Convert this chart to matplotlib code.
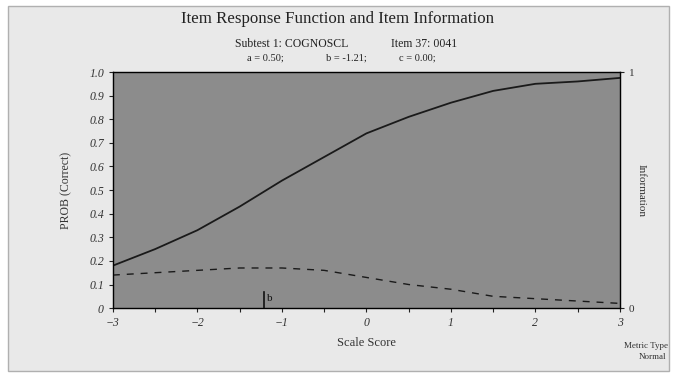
import matplotlib
matplotlib.use("Agg")
import matplotlib.pyplot as plt
from matplotlib.patches import Rectangle

theta = [-3.0, -2.5, -2.0, -1.5, -1.0, -0.5, 0.0, 0.5, 1.0, 1.5, 2.0, 2.5, 3.0]
prob_correct = [0.18, 0.25, 0.33, 0.43, 0.54, 0.64, 0.74, 0.81, 0.87, 0.92, 0.95, 0.96, 0.975]
information = [0.14, 0.15, 0.16, 0.17, 0.17, 0.16, 0.13, 0.10, 0.08, 0.05, 0.04, 0.03, 0.02]
b_param = -1.21
x_ticks = [-3, -2, -1, 0, 1, 2, 3]
y_ticks = [0, 0.1, 0.2, 0.3, 0.4, 0.5, 0.6, 0.7, 0.8, 0.9, 1.0]
y_ticklabels = ["0", "0.1", "0.2", "0.3", "0.4", "0.5", "0.6", "0.7", "0.8", "0.9", "1.0"]

SERIF = ["Liberation Serif", "DejaVu Serif"]

fig = plt.figure(figsize=(6.76, 3.79), dpi=100)
fig.patch.set_facecolor("white")
fig.patches.append(Rectangle((0.012, 0.02), 0.978, 0.965, transform=fig.transFigure,
                             facecolor="#e9e9e9", edgecolor="#b0b0b0", lw=1.0, zorder=-10))

ax = fig.add_axes([0.167, 0.187, 0.750, 0.623])
ax.set_facecolor("#8c8c8c")
ax.plot(theta, prob_correct, color="#1a1a1a", lw=1.3)
ax.set_xlim(-3, 3)
ax.set_ylim(0, 1)
ax.set_xticks(x_ticks)
ax.set_xticks([-2.5, -1.5, -0.5, 0.5, 1.5, 2.5], minor=True)
ax.set_yticks(y_ticks)
ax.set_yticklabels(y_ticklabels)
for lab in ax.get_xticklabels() + ax.get_yticklabels():
    lab.set_fontfamily(SERIF)
    lab.set_fontstyle("italic")
    lab.set_fontsize(8.5)
    lab.set_color("#333333")
ax.tick_params(axis="both", which="both", direction="out", length=3, width=0.8, colors="#222222",
               labelcolor="#333333")
for s in ax.spines.values():
    s.set_color("#222222")
    s.set_linewidth(1.0)

ax.set_xlabel("Scale Score", fontfamily=SERIF, fontsize=9, color="#333333", labelpad=6)
ax.set_ylabel("PROB (Correct)", fontfamily=SERIF, fontsize=8.5, color="#333333", labelpad=12)

ax2 = ax.twinx()
ax2.plot(theta, information, color="#1a1a1a", lw=1.0, ls=(0, (5, 5)))
ax2.set_ylim(0, 1)
ax2.set_yticks([0, 1])
ax2.set_yticklabels(["0", "1"], fontfamily=SERIF, fontsize=8, color="#333333")
ax2.tick_params(axis="y", direction="out", length=3, colors="#222222", labelcolor="#333333")
ax2.set_ylabel("Information", fontfamily=SERIF, fontsize=8, color="#333333", rotation=-90,
               labelpad=8)

ax.plot([b_param, b_param], [0, 0.07], color="#111111", lw=1.2)
ax.text(b_param + 0.03, 0.04, "b", fontfamily=SERIF, fontsize=8, color="#111111",
        ha="left", va="center")

fig.text(0.5, 0.950, "Item Response Function and Item Information", ha="center", va="center",
         fontfamily=SERIF, fontsize=12.2, color="#222222")
fig.text(0.432, 0.885, "Subtest 1: COGNOSCL", ha="center", va="center",
         fontfamily=SERIF, fontsize=8.5, color="#222222")
fig.text(0.628, 0.885, "Item 37: 0041", ha="center", va="center",
         fontfamily=SERIF, fontsize=8.5, color="#222222")
fig.text(0.392, 0.848, "a = 0.50;", ha="center", va="center",
         fontfamily=SERIF, fontsize=7.5, color="#222222")
fig.text(0.512, 0.848, "b = -1.21;", ha="center", va="center",
         fontfamily=SERIF, fontsize=7.5, color="#222222")
fig.text(0.617, 0.848, "c = 0.00;", ha="center", va="center",
         fontfamily=SERIF, fontsize=7.5, color="#222222")
fig.text(0.955, 0.088, "Metric Type", ha="center", va="center",
         fontfamily=SERIF, fontsize=6.5, color="#333333")
fig.text(0.965, 0.058, "Normal", ha="center", va="center",
         fontfamily=SERIF, fontsize=6.5, color="#333333")

fig.savefig("out.png", dpi=100)
